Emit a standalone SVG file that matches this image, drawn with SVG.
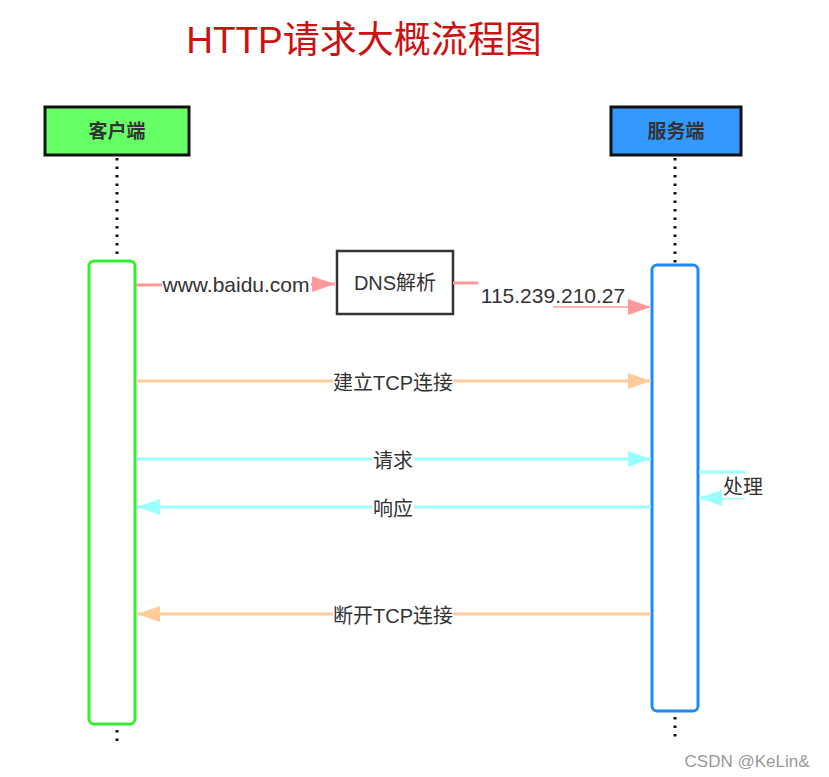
<svg xmlns="http://www.w3.org/2000/svg" width="829" height="777" viewBox="0 0 829 777">
<style>
text{font-family:"Liberation Sans","Noto Sans CJK SC",sans-serif;fill:#333;}
.lbl{font-size:20px;text-anchor:middle;}
.lat{font-size:21px;text-anchor:middle;}
.hdr{font-size:19px;font-weight:bold;text-anchor:middle;}
.life{stroke:#111;stroke-width:3;stroke-dasharray:2.5 6;fill:none;}
.pink{stroke:#ff9999;stroke-width:3;fill:none;}
.peach{stroke:#ffcc99;stroke-width:3;fill:none;}
.cyan{stroke:#99ffff;stroke-width:3;fill:none;}
.bg{fill:#ffffff;}
</style>
<defs>
<marker id="aPink" markerUnits="userSpaceOnUse" markerWidth="24" markerHeight="18" refX="23" refY="8" orient="auto"><path d="M0,0 L23,8 L0,16 Z" fill="#ff9999"/></marker>
<marker id="aPeach" markerUnits="userSpaceOnUse" markerWidth="24" markerHeight="18" refX="23" refY="8" orient="auto"><path d="M0,0 L23,8 L0,16 Z" fill="#ffcc99"/></marker>
<marker id="aCyan" markerUnits="userSpaceOnUse" markerWidth="24" markerHeight="18" refX="23" refY="8" orient="auto"><path d="M0,0 L23,8 L0,16 Z" fill="#99ffff"/></marker>
</defs>
<rect width="829" height="777" fill="#ffffff"/>
<text x="364" y="53" style="font-size:37px;fill:#cc1111;text-anchor:middle">HTTP请求大概流程图</text>

<g id="lifelines">
<line class="life" x1="117" y1="158" x2="117" y2="259"/>
<line class="life" x1="117" y1="730" x2="117" y2="742"/>
<line class="life" x1="675" y1="158" x2="675" y2="264"/>
<line class="life" x1="675" y1="717" x2="675" y2="740"/>
</g>

<g id="client">
<rect x="45" y="107" width="144" height="48" fill="#66ff66" stroke="#111" stroke-width="3"/>
<text class="hdr" x="117" y="138">客户端</text>
</g>
<g id="server">
<rect x="611" y="107" width="130" height="48" fill="#3399ff" stroke="#111" stroke-width="3"/>
<text class="hdr" x="676" y="138">服务端</text>
</g>
<g id="client-activation">
<rect x="89" y="261" width="46" height="463" rx="5" fill="#ffffff" stroke="#33ee33" stroke-width="3"/>
</g>
<g id="server-activation">
<rect x="652" y="265" width="46" height="446" rx="5" fill="#ffffff" stroke="#1e88ff" stroke-width="3"/>
</g>
<g id="dns">
<rect x="337" y="251" width="116" height="63" fill="#ffffff" stroke="#333" stroke-width="2.5"/>
<text class="lbl" x="395" y="290">DNS解析</text>
</g>

<g id="connectors">
<line class="pink" x1="136" y1="285" x2="335" y2="284" marker-end="url(#aPink)"/>
<rect class="bg" x="162" y="272" width="149" height="24"/>
<text class="lat" x="236" y="292">www.baidu.com</text>

<line class="pink" x1="453" y1="283" x2="478" y2="283"/>
<line x1="553" y1="307" x2="651" y2="307" stroke="#ff9999" stroke-width="1.5" marker-end="url(#aPink)"/>
<text class="lat" x="553" y="303">115.239.210.27</text>

<line class="peach" x1="136" y1="381" x2="651" y2="381" marker-end="url(#aPeach)"/>
<rect class="bg" x="333" y="370" width="120" height="24"/>
<text class="lbl" x="393" y="390">建立TCP连接</text>

<line class="cyan" x1="136" y1="459" x2="651" y2="459" marker-end="url(#aCyan)"/>
<rect class="bg" x="372" y="450" width="42" height="22"/>
<text class="lbl" x="393" y="468">请求</text>

<line class="cyan" x1="651" y1="507" x2="137" y2="507" marker-end="url(#aCyan)"/>
<rect class="bg" x="372" y="498" width="42" height="22"/>
<text class="lbl" x="393" y="516">响应</text>

<line class="cyan" x1="699" y1="472" x2="745" y2="472"/>
<line class="cyan" x1="745" y1="498" x2="699" y2="498" marker-end="url(#aCyan)"/>
<rect class="bg" x="722" y="476" width="42" height="22"/>
<text class="lbl" x="743" y="494">处理</text>

<line class="peach" x1="651" y1="614" x2="137" y2="614" marker-end="url(#aPeach)"/>
<rect class="bg" x="333" y="603" width="120" height="24"/>
<text class="lbl" x="393" y="623">断开TCP连接</text>
</g>

<text x="747" y="767" style="font-size:17px;fill:#999;text-anchor:middle">CSDN @KeLin&amp;</text>
</svg>
